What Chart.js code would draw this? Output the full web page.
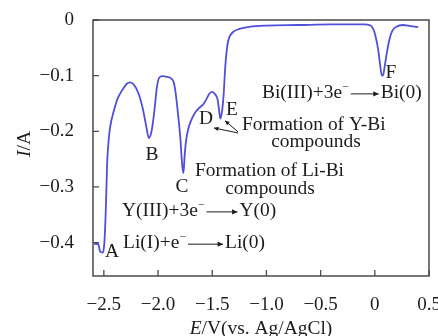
<!DOCTYPE html>
<html><head><meta charset="utf-8">
<script src="https://cdn.jsdelivr.net/npm/chart.js@4/dist/chart.umd.min.js"></script>
<style>html,body{margin:0;padding:0;background:#fff}canvas{display:block}</style>
</head><body>
<canvas id="c" width="438" height="336"></canvas>
<script>
// ---- data ----
const potentialV = [-2.59,-2.55,-2.535,-2.51,-2.495,-2.48,-2.47,-2.455,-2.44,-2.41,-2.37,-2.33,-2.29,-2.26,-2.22,-2.18,-2.14,-2.11,-2.085,-2.06,-2.035,-2.01,-1.99,-1.96,-1.92,-1.88,-1.855,-1.835,-1.815,-1.795,-1.775,-1.765,-1.755,-1.74,-1.72,-1.70,-1.66,-1.62,-1.585,-1.555,-1.525,-1.50,-1.475,-1.45,-1.435,-1.425,-1.41,-1.395,-1.38,-1.36,-1.34,-1.31,-1.25,-1.15,-1.0,-0.7,-0.4,-0.1,-0.04,-0.01,0.01,0.03,0.05,0.065,0.078,0.09,0.11,0.135,0.16,0.2,0.26,0.33,0.4];
const currentA = [-0.402,-0.403,-0.416,-0.418,-0.40,-0.33,-0.26,-0.215,-0.19,-0.165,-0.14,-0.126,-0.115,-0.112,-0.117,-0.132,-0.16,-0.19,-0.212,-0.2,-0.165,-0.12,-0.104,-0.101,-0.102,-0.105,-0.112,-0.135,-0.17,-0.21,-0.265,-0.275,-0.245,-0.215,-0.195,-0.183,-0.167,-0.158,-0.152,-0.143,-0.132,-0.129,-0.133,-0.143,-0.165,-0.177,-0.165,-0.135,-0.085,-0.045,-0.03,-0.022,-0.016,-0.012,-0.010,-0.009,-0.008,-0.008,-0.010,-0.018,-0.032,-0.052,-0.082,-0.100,-0.098,-0.085,-0.060,-0.035,-0.020,-0.012,-0.009,-0.011,-0.013];
const xTickValues = [-2.5,-2.0,-1.5,-1.0,-0.5,0,0.5];
const yTickValues = [0,-0.1,-0.2,-0.3,-0.4];
const peakLetters = ['A','B','C','D','E','F'];
const xTitleItalic = 'E', xTitleRest = '/V(vs. Ag/AgCl)';
const yTitleItalic = 'I', yTitleRest = '/A';

// ---- annotation layout (data coordinates) ----
const peakLabelSpots = [[-2.425,-0.417],[-2.056,-0.243],[-1.779,-0.300],[-1.557,-0.178],[-1.318,-0.162],[0.149,-0.095]];
const reactions = [
  {reactant:'Bi(III)+3e', product:'Bi(0)', at:[-1.041,-0.131], arrow:28},
  {reactant:'Y(III)+3e', product:'Y(0)', at:[-2.332,-0.343], arrow:31},
  {reactant:'Li(I)+e', product:'Li(0)', at:[-2.323,-0.401], arrow:35}
];
const notes = [
  {text:'Formation of Y-Bi', at:[-1.225,-0.190], align:'left'},
  {text:'compounds', at:[-0.543,-0.219], align:'center'},
  {text:'Formation of Li-Bi', at:[-1.659,-0.271], align:'left'},
  {text:'compounds', at:[-0.967,-0.304], align:'center'}
];
const pointers = [
  {from:[-1.262,-0.203], to:[-1.484,-0.194]},
  {from:[-1.262,-0.201], to:[-1.382,-0.181]}
];

const FONT = '"Liberation Serif", "Times New Roman", serif';
const SX = 1.08;
const TXT = '#1c1c1c';

function fmt(v){ if (Math.abs(v) < 1e-9) return '0'; return (v<0?'\u2212':'') + Math.abs(v).toFixed(1); }

function stretchText(ctx, str, x, y, font, align){
  ctx.save();
  ctx.font = font;
  const w = ctx.measureText(str).width * SX;
  let x0 = x;
  if (align === 'center') x0 = x - w/2; else if (align === 'right') x0 = x - w;
  ctx.translate(x0, y); ctx.scale(SX, 1);
  ctx.textAlign = 'left'; ctx.textBaseline = 'middle';
  ctx.fillText(str, 0, 0);
  ctx.restore();
  return w;
}

function arrowHead(ctx, x1, y1, x2, y2, size){
  const a = Math.atan2(y2-y1, x2-x1);
  ctx.beginPath();
  ctx.moveTo(x2, y2);
  ctx.lineTo(x2 - size*Math.cos(a-0.45), y2 - size*Math.sin(a-0.45));
  ctx.lineTo(x2 - size*Math.cos(a+0.45), y2 - size*Math.sin(a+0.45));
  ctx.closePath(); ctx.fill();
}

const decor = {
  id:'decor',
  afterDraw(chart){
    const ctx = chart.ctx, xs = chart.scales.x, ys = chart.scales.y, ca = chart.chartArea;
    ctx.save();
    // frame
    ctx.strokeStyle = '#4a4a4a'; ctx.lineWidth = 1.5;
    ctx.strokeRect(ca.left, ca.top, ca.right-ca.left, ca.bottom-ca.top);
    // inner ticks
    ctx.lineWidth = 1.3;
    ctx.beginPath();
    xTickValues.forEach(v => { const p = xs.getPixelForValue(v); ctx.moveTo(p, ca.bottom); ctx.lineTo(p, ca.bottom-6); });
    yTickValues.forEach(v => { const p = ys.getPixelForValue(v); ctx.moveTo(ca.left, p); ctx.lineTo(ca.left+6, p); });
    ctx.stroke();

    ctx.fillStyle = TXT; ctx.strokeStyle = TXT;
    const f = '18px ' + FONT, fi = 'italic 18px ' + FONT;
    // peak letters
    peakLetters.forEach((L,i) => {
      stretchText(ctx, L, xs.getPixelForValue(peakLabelSpots[i][0]), ys.getPixelForValue(peakLabelSpots[i][1]), f, 'center');
    });
    // reactions
    reactions.forEach(r => {
      let x = xs.getPixelForValue(r.at[0]); const y = ys.getPixelForValue(r.at[1]);
      x += stretchText(ctx, r.reactant, x, y, f, 'left');
      x += stretchText(ctx, '\u2212', x, y-6, '11px ' + FONT, 'left') + 2;
      ctx.lineWidth = 1; ctx.beginPath(); ctx.moveTo(x, y+1); ctx.lineTo(x + r.arrow, y+1); ctx.stroke();
      arrowHead(ctx, x, y+1, x + r.arrow, y+1, 6);
      x += r.arrow + 2;
      stretchText(ctx, r.product, x, y, f, 'left');
    });
    // notes
    notes.forEach(n => stretchText(ctx, n.text, xs.getPixelForValue(n.at[0]), ys.getPixelForValue(n.at[1]), f, n.align));
    // pointers
    pointers.forEach(p => {
      const x1 = xs.getPixelForValue(p.from[0]), y1 = ys.getPixelForValue(p.from[1]);
      const x2 = xs.getPixelForValue(p.to[0]), y2 = ys.getPixelForValue(p.to[1]);
      ctx.lineWidth = 1; ctx.beginPath(); ctx.moveTo(x1,y1); ctx.lineTo(x2,y2); ctx.stroke();
      arrowHead(ctx, x1, y1, x2, y2, 5);
    });
    // axis titles
    const cx = (ca.left + ca.right)/2;
    ctx.font = fi; const wE = ctx.measureText(xTitleItalic).width*SX;
    ctx.font = f; const wR = ctx.measureText(xTitleRest).width*SX;
    let tx = cx - (wE+wR)/2; const ty = chart.height - 7;
    tx += stretchText(ctx, xTitleItalic, tx, ty, fi, 'left');
    stretchText(ctx, xTitleRest, tx, ty, f, 'left');
    // y title rotated
    ctx.save();
    ctx.translate(25, (ca.top+ca.bottom)/2 - 4); ctx.rotate(-Math.PI/2);
    ctx.font = fi; const wI = ctx.measureText(yTitleItalic).width*SX;
    ctx.font = f; const wA = ctx.measureText(yTitleRest).width*SX;
    let yx = -(wI+wA)/2;
    yx += stretchText(ctx, yTitleItalic, yx, 0, fi, 'left');
    stretchText(ctx, yTitleRest, yx, 0, f, 'left');
    ctx.restore();
    ctx.restore();
  }
};

new Chart(document.getElementById('c'), {
  type:'scatter',
  data:{ datasets:[{
    data: potentialV.map((v,i) => ({x:v, y:currentA[i]})),
    showLine:true, borderColor:'#4f4fdc', borderWidth:1.8, pointRadius:0,
    cubicInterpolationMode:'monotone', fill:false
  }]},
  options:{
    responsive:false, animation:false, devicePixelRatio:1,
    layout:{ padding:{ top:20, right:9, left:0, bottom:0 } },
    plugins:{ legend:{display:false}, tooltip:{enabled:false} },
    scales:{
      x:{ type:'linear', min:-2.6, max:0.5,
        afterBuildTicks: s => { s.ticks = xTickValues.map(v => ({value:v})); },
        afterFit: s => { s.height = 60; s.paddingLeft = 0; s.paddingRight = 0; },
        grid:{display:false}, border:{display:false},
        ticks:{ font:{family:FONT, size:19}, color:TXT, padding:10, maxRotation:0, autoSkip:false, callback: v => fmt(v) } },
      y:{ type:'linear', min:-0.46, max:0,
        afterBuildTicks: s => { s.ticks = yTickValues.map(v => ({value:v})); },
        afterFit: s => { s.width = 93; s.paddingTop = 0; s.paddingBottom = 0; },
        grid:{display:false}, border:{display:false},
        ticks:{ font:{family:FONT, size:19}, color:TXT, padding:11, autoSkip:false, callback: v => fmt(v) } }
    }
  },
  plugins:[decor]
});
</script>
</body></html>
